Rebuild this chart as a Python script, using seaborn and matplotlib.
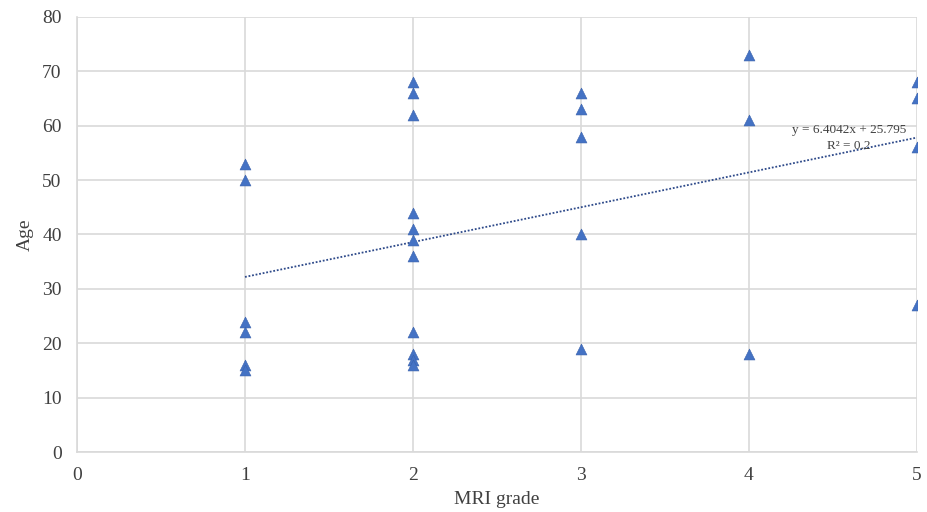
import numpy as np
import pandas as pd
import matplotlib
matplotlib.use("Agg")
import matplotlib.pyplot as plt
import seaborn as sns

# values
mri_grade = [1, 1, 1, 1, 1, 1,
             2, 2, 2, 2, 2, 2, 2, 2, 2, 2, 2,
             3, 3, 3, 3, 3,
             4, 4, 4,
             5, 5, 5, 5]
age = [53, 50, 24, 22, 16, 15,
       68, 66, 62, 44, 41, 39, 36, 22, 18, 17, 16,
       66, 63, 58, 40, 19,
       73, 61, 18,
       68, 65, 56, 27]

# trendline as printed on the chart
slope = 6.4042
intercept = 25.795
r_squared = 0.2

x_ticks = [0, 1, 2, 3, 4, 5]
y_ticks = [0, 10, 20, 30, 40, 50, 60, 70, 80]

df = pd.DataFrame({"MRI grade": mri_grade, "Age": age})

sns.set_theme(style="whitegrid")
plt.rcParams['font.family'] = ['Liberation Serif', 'DejaVu Serif']

fig = plt.figure(figsize=(9.28, 5.12), dpi=100)
ax = fig.add_axes([0.083, 0.117, 0.905, 0.85])

sns.scatterplot(data=df, x="MRI grade", y="Age", marker="^", s=62,
                color="#4472C4", edgecolor="#3A62AC", linewidth=0.4,
                ax=ax, zorder=3)

tx = np.array([min(mri_grade), max(mri_grade)])
ax.plot(tx, slope * tx + intercept, linestyle=(0, (1, 1)), color="#2E4A8A",
        linewidth=1.3, zorder=2)
ax.text(4.595, 57.8, f"y = {slope}x + {intercept}\nR² = {r_squared}",
        ha="center", va="center", multialignment="center", linespacing=1.45,
        fontsize=9.5, color="#404040", zorder=4)

ax.set_xlim(0, 5)
ax.set_ylim(0, 80)
ax.set_xticks(x_ticks)
ax.set_yticks(y_ticks)
ax.grid(True, color="#D9D9D9", linewidth=1.2)
for side in ["top", "right"]:
    ax.spines[side].set_visible(False)
for side in ["left", "bottom"]:
    ax.spines[side].set_color("#D9D9D9")
    ax.spines[side].set_linewidth(1.2)
ax.tick_params(axis="y", labelsize=14, colors="#404040", length=0, pad=11)
ax.tick_params(axis="x", labelsize=14, colors="#404040", length=0, pad=11)
ax.set_xlabel("MRI grade", fontsize=14, color="#404040", labelpad=5)
ax.set_ylabel("Age", fontsize=14, color="#404040", labelpad=6)

fig.savefig("out.png", dpi=100)
